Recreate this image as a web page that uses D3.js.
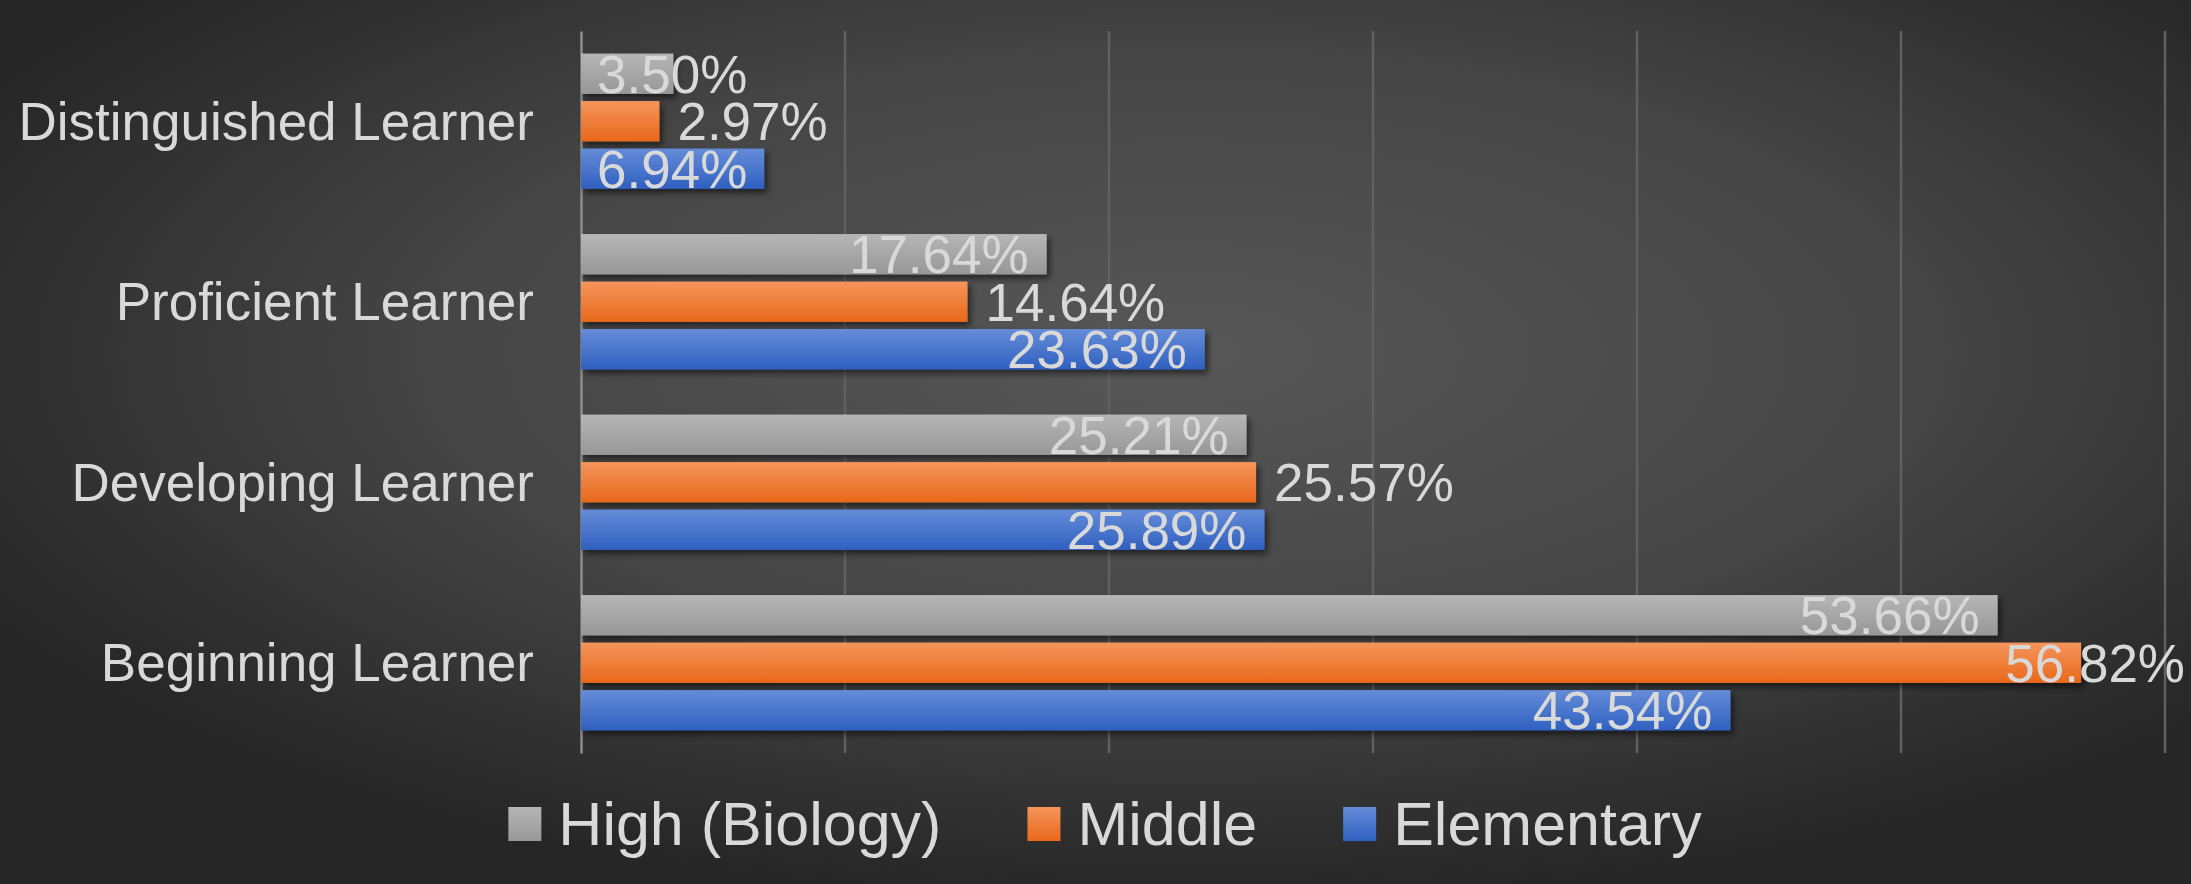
<!DOCTYPE html>
<html>
<head>
<meta charset="utf-8">
<script src="https://cdn.jsdelivr.net/npm/d3@7"></script>
<style>
  html, body { margin: 0; padding: 0; background: #333; }
  svg { display: block; }
  text { font-family: "Liberation Sans", Arial, sans-serif; }
</style>
</head>
<body>
<script>
const categories = ["Distinguished Learner", "Proficient Learner", "Developing Learner", "Beginning Learner"];
const seriesNames = ["High (Biology)", "Middle", "Elementary"];
const highValues = [3.50, 17.64, 25.21, 53.66];
const middleValues = [2.97, 14.64, 25.57, 56.82];
const elementaryValues = [6.94, 23.63, 25.89, 43.54];
const xTicks = [0, 10, 20, 30, 40, 50, 60];
const labelPlacement = ["inside", "outside", "inside"];

const W = 2191, H = 884;
const plot = { left: 581, right: 2165, top: 31, bottom: 753 };
const seriesValues = [highValues, middleValues, elementaryValues];
const gradStops = [
  ["#b6b6b6", "#979797"],
  ["#f5955c", "#e8681a"],
  ["#658cd8", "#2f60c0"]
];

const svg = d3.select("body").append("svg").attr("width", W).attr("height", H);
const defs = svg.append("defs");

const bg = defs.append("radialGradient").attr("id", "bg")
  .attr("cx", "54%").attr("cy", "40%").attr("r", "62%");
bg.append("stop").attr("offset", "0%").attr("stop-color", "#575757");
bg.append("stop").attr("offset", "55%").attr("stop-color", "#454545");
bg.append("stop").attr("offset", "100%").attr("stop-color", "#262626");

gradStops.forEach((g, i) => {
  const lg = defs.append("linearGradient").attr("id", "g" + i)
    .attr("x1", 0).attr("y1", 0).attr("x2", 0).attr("y2", 1);
  lg.append("stop").attr("offset", "0%").attr("stop-color", g[0]);
  lg.append("stop").attr("offset", "100%").attr("stop-color", g[1]);
});

const sh = defs.append("filter").attr("id", "shadow")
  .attr("x", "-5%").attr("y", "-20%").attr("width", "115%").attr("height", "160%");
sh.append("feDropShadow").attr("dx", 3).attr("dy", 4).attr("stdDeviation", 3)
  .attr("flood-color", "#000").attr("flood-opacity", 0.55);

svg.append("rect").attr("width", W).attr("height", H).attr("fill", "url(#bg)");

const x = d3.scaleLinear().domain([0, 60]).range([plot.left, plot.right]);
const y = d3.scaleBand().domain(categories).range([plot.top, plot.bottom])
  .paddingInner(0.25).paddingOuter(0.125);
const ys = d3.scaleBand().domain(d3.range(3)).range([0, y.bandwidth()])
  .paddingInner(0.15).paddingOuter(0);

// gridlines
svg.append("g").selectAll("line").data(xTicks.filter(t => t > 0)).join("line")
  .attr("x1", d => x(d)).attr("x2", d => x(d))
  .attr("y1", plot.top).attr("y2", plot.bottom)
  .attr("stroke", "#606060").attr("stroke-width", 2.5);

// category axis
const yAxis = d3.axisLeft(y).tickSize(0).tickPadding(47);
const ga = svg.append("g").attr("transform", `translate(${plot.left},0)`).call(yAxis);
ga.select(".domain").attr("stroke", "#8e8e8e").attr("stroke-width", 2.5);
ga.selectAll("text").attr("fill", "#d9d9d9").attr("font-size", 53)
  .attr("font-family", "'Liberation Sans', Arial, sans-serif").attr("dy", "0.35em");

// bars
const rows = [];
categories.forEach((c, ci) => {
  seriesValues.forEach((vals, si) => rows.push({ c, si, v: vals[ci] }));
});

svg.append("g").selectAll("rect").data(rows).join("rect")
  .attr("x", x(0))
  .attr("y", d => y(d.c) + ys(d.si))
  .attr("width", d => x(d.v) - x(0))
  .attr("height", ys.bandwidth())
  .attr("fill", d => `url(#g${d.si})`)
  .attr("filter", "url(#shadow)");

// value labels
const lblG = svg.append("g");
rows.forEach(d => {
  const t = lblG.append("text")
    .attr("font-size", 53).attr("fill", "#d9d9d9")
    .attr("y", y(d.c) + ys(d.si) + ys.bandwidth() / 2)
    .attr("dy", "0.36em")
    .text(d.v.toFixed(2) + "%");
  const w = t.node().getComputedTextLength();
  const end = x(d.v);
  let tx;
  if (labelPlacement[d.si] === "inside") {
    tx = Math.max(x(0) + 16, end - 18 - w);
  } else {
    tx = Math.min(end + 18, W - 6 - w);
  }
  t.attr("x", tx);
});

// legend
const legend = svg.append("g");
const legendY = 823;
let items = [];
seriesNames.forEach((n, i) => {
  const g = legend.append("g");
  g.append("rect").attr("x", 0).attr("y", legendY - 16).attr("width", 33).attr("height", 34)
    .attr("fill", `url(#g${i})`);
  const t = g.append("text").attr("x", 50).attr("y", legendY).attr("dy", "0.36em")
    .attr("font-size", 61).attr("fill", "#d9d9d9").text(n);
  const w = 50 + t.node().getComputedTextLength();
  items.push({ g, w });
});
const gap = 86;
const total = d3.sum(items, d => d.w) + gap * (items.length - 1);
let lx = 1105 - total / 2;
items.forEach(it => {
  it.g.attr("transform", `translate(${lx},0)`);
  lx += it.w + gap;
});
</script>
</body>
</html>
